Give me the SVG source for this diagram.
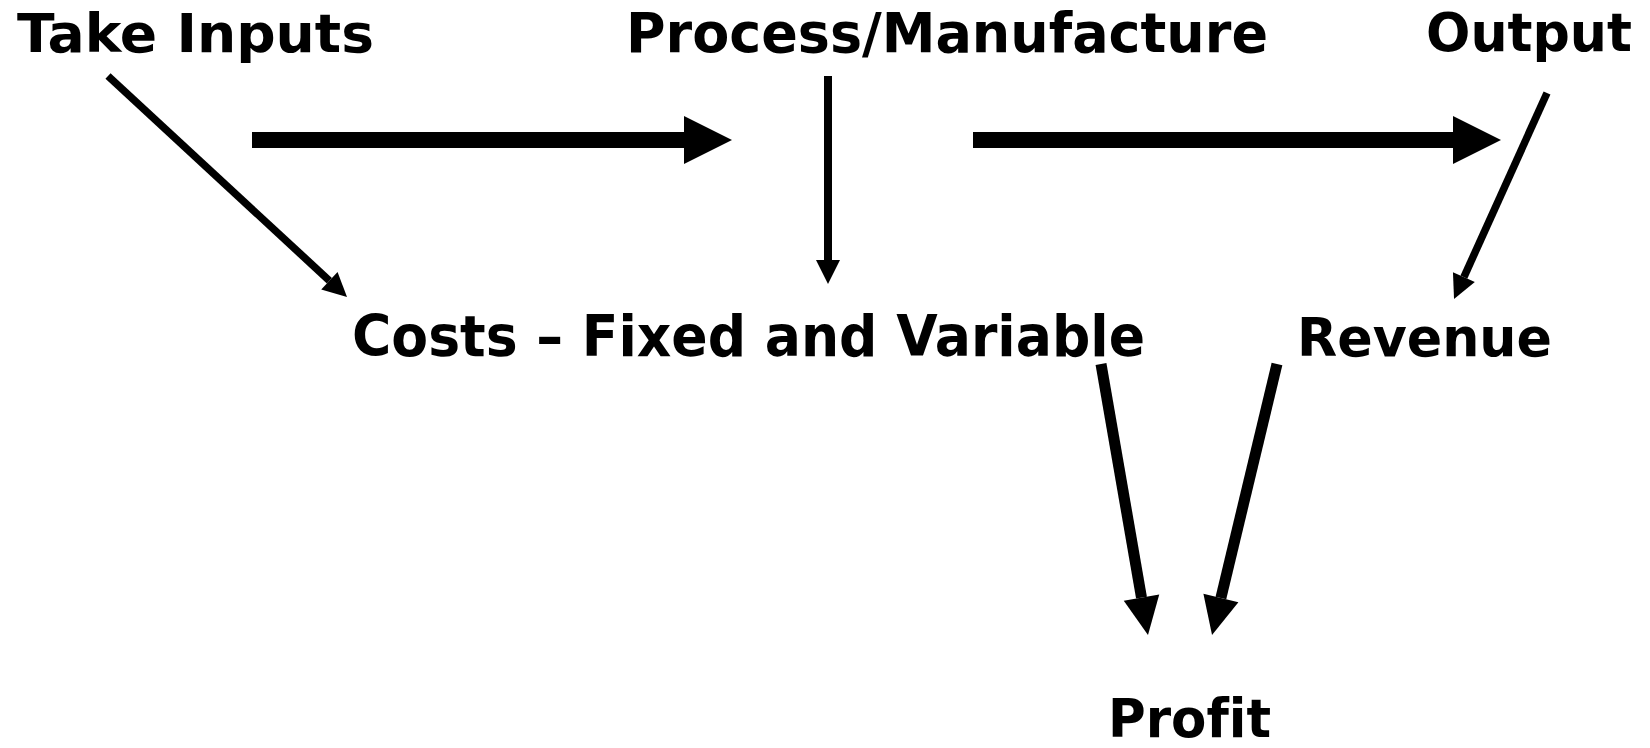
<svg xmlns="http://www.w3.org/2000/svg" width="1650" height="748" viewBox="0 0 1650 748">
  <style>
    .lbl { font-family: "DejaVu Sans", Verdana, sans-serif; font-weight: bold; fill: #000; font-variant-ligatures: none; }
    .c { fill: none; stroke: #000; stroke-linecap: butt; }
  </style>
  <defs>
    <marker id="headL" markerUnits="userSpaceOnUse" orient="auto" refX="0" refY="0" markerWidth="48" markerHeight="48" overflow="visible">
      <path d="M0,-24 L48,0 L0,24 Z" fill="#000"/>
    </marker>
    <marker id="headM" markerUnits="userSpaceOnUse" orient="auto" refX="0" refY="0" markerWidth="38" markerHeight="36" overflow="visible">
      <path d="M0,-18 L38,0 L0,18 Z" fill="#000"/>
    </marker>
    <marker id="headS" markerUnits="userSpaceOnUse" orient="auto" refX="0" refY="0" markerWidth="24" markerHeight="24" overflow="visible">
      <path d="M0,-12 L24,0 L0,12 Z" fill="#000"/>
    </marker>
  </defs>
  <rect width="1650" height="748" fill="#fff"/>

  <g id="node-take-inputs">
    <text class="lbl" x="17" y="52" font-size="54" textLength="357" lengthAdjust="spacingAndGlyphs">Take Inputs</text>
  </g>
  <g id="node-process">
    <text class="lbl" x="626" y="52" font-size="55" textLength="642" lengthAdjust="spacingAndGlyphs">Process/Manufacture</text>
  </g>
  <g id="node-output">
    <text class="lbl" x="1426" y="51" font-size="54" textLength="206" lengthAdjust="spacingAndGlyphs">Output</text>
  </g>
  <g id="node-costs">
    <text class="lbl" x="352" y="356" font-size="57" textLength="793" lengthAdjust="spacingAndGlyphs">Costs – Fixed and Variable</text>
  </g>
  <g id="node-revenue">
    <text class="lbl" x="1297" y="356" font-size="54" textLength="255" lengthAdjust="spacingAndGlyphs">Revenue</text>
  </g>
  <g id="node-profit">
    <text class="lbl" x="1108" y="737" font-size="53" textLength="163" lengthAdjust="spacingAndGlyphs">Profit</text>
  </g>

  <g id="connectors">
    <path class="c" d="M108,76 L329.4,280.7" stroke-width="7.5" marker-end="url(#headS)"/>
    <path class="c" d="M252,140 L684,140" stroke-width="16" marker-end="url(#headL)"/>
    <path class="c" d="M973,140 L1453,140" stroke-width="16" marker-end="url(#headL)"/>
    <path class="c" d="M828,76 L828,260" stroke-width="8" marker-end="url(#headS)"/>
    <path class="c" d="M1547,93 L1463.9,277.1" stroke-width="7.5" marker-end="url(#headS)"/>
    <path class="c" d="M1101,364 L1141.5,597.6" stroke-width="11" marker-end="url(#headM)"/>
    <path class="c" d="M1277,364 L1220.9,598" stroke-width="11" marker-end="url(#headM)"/>
  </g>
</svg>
